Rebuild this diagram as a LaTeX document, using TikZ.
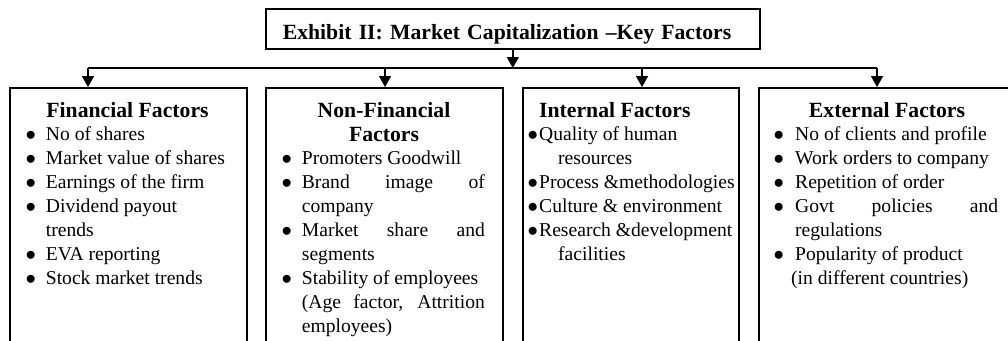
\documentclass[tikz,border=0pt]{standalone}
\usepackage{fontspec}
\setmainfont{Liberation Serif}
\usetikzlibrary{arrows.meta}

\newcommand{\bodyfont}{\fontsize{19.6}{24}\selectfont}
\newcommand{\headfont}{\fontsize{21.7}{24}\selectfont\bfseries}
% bullet set in a box of given width, text follows
\newcommand{\bul}[1][18.7pt]{\makebox[#1][l]{\hspace*{-1.5pt}$\bullet$}}
% a line spread out to a full width
\newcommand{\jline}[2]{\makebox[#1][s]{#2}}

\begin{document}
\begin{tikzpicture}[x=1pt, y=-1pt]
    \tikzstyle{box}  = [draw, line width=1.6pt, inner sep=0pt, anchor=north west, minimum height=300pt];
    \tikzstyle{head} = [inner sep=0pt, anchor=north, font=\headfont, align=center];
    \tikzstyle{list} = [inner sep=0pt, anchor=north west, font=\bodyfont, align=left];
    \tikzstyle{arr}  = [-{Triangle[width=12pt,length=11pt]}, line width=1.6pt];

    \useasboundingbox (0,0) rectangle (1008,340);
    \clip (0,0) rectangle (1008,340);

    % title
    \node (title) at (265,8) [draw, line width=1.6pt, anchor=north west,
      minimum width=494pt, minimum height=40pt, inner xsep=17pt,
      text width=460pt, text height=22pt, text depth=1.4pt,
      align=left, font=\headfont] {Exhibit II: Market Capitalization \textendash Key Factors};

    % the four factor boxes
    \node (fin)    at (  9,87) [box, minimum width=237pt] {};
    \node (nonfin) at (265,87) [box, minimum width=237pt] {};
    \node (int)    at (522,87) [box, minimum width=216pt] {};
    \node (ext)    at (758,87) [box, minimum width=258pt] {};

    % bus and arrows
    \coordinate (bus-l) at ( 88,68);
    \coordinate (bus-r) at (877,68);
    \draw[line width=1.6pt] (bus-l) -- (bus-r);
    \draw[arr] (title.south) -- (title.south |- bus-l);
    \foreach \b/\x in {fin/88, nonfin/385, int/642, ext/877} {
      \coordinate (tap-\b) at (\x,68);
      \draw[arr] (tap-\b) -- (tap-\b |- \b.north);
    }

    % headings
    \node (fin-head)    at (127.5,100.2) [head] {\strut Financial Factors};
    \node (nonfin-head) at (384,100.2)   [head] {\strut Non-Financial\\Factors};
    \node (int-head)    at (539,100.2)   [head, anchor=north west] {\strut Internal Factors};
    \node (ext-head)    at (887,100.2)   [head] {\strut External Factors};

    % lists
    \node (fin-list) at (27,123.2) [list] {\strut\bul No of shares\\
      \bul Market value of shares\\
      \bul Earnings of the firm\\
      \bul Dividend payout\\
      \hspace*{18.7pt}trends\\
      \bul EVA reporting\\
      \bul Stock market trends};

    \node (nonfin-list) at (283,147.2) [list] {\strut\bul Promoters Goodwill\\
      \bul\jline{183pt}{Brand image of}\\
      \hspace*{18.7pt}company\\
      \bul\jline{183pt}{Market share and}\\
      \hspace*{18.7pt}segments\\
      \bul Stability of employees\\
      \hspace*{18.7pt}\jline{183pt}{(Age factor, Attrition}\\
      \hspace*{18.7pt}employees)};

    \node (int-list) at (529,123.2) [list] {\strut\bul[10pt]Quality of human\\
      \hspace*{29pt}resources\\
      \bul[10pt]Process \&methodologies\\
      \bul[10pt]Culture \& environment\\
      \bul[10pt]Research \&development\\
      \hspace*{29pt}facilities};

    \node (ext-list) at (775,123.2) [list] {\strut\bul[20pt]No of clients and profile\\
      \bul[20pt]Work orders to company\\
      \bul[20pt]Repetition of order\\
      \bul[20pt]\jline{203pt}{Govt policies and}\\
      \hspace*{20pt}regulations\\
      \bul[20pt]Popularity of product\\
      \hspace*{16pt}(in different countries)};
\end{tikzpicture}
\end{document}
